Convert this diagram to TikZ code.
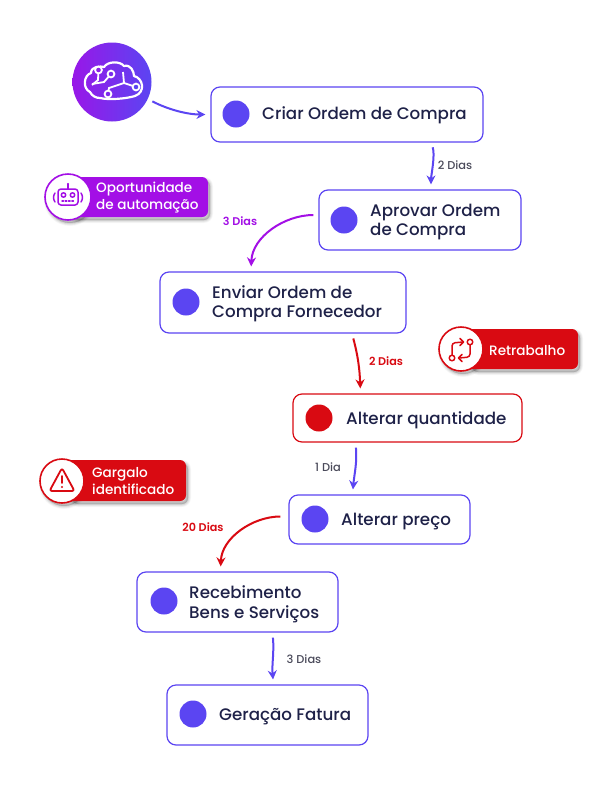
\documentclass[tikz,border=0pt]{standalone}
\usepackage{fontspec}
\setmainfont{Poppins Medium}
\newfontfamily\semif{Poppins SemiBold}
\usetikzlibrary{arrows.meta,calc,positioning}
\definecolor{bluec}{HTML}{5B45F2}
\definecolor{redc}{HTML}{D90A12}
\definecolor{purpc}{HTML}{A30FE6}
\definecolor{navy}{HTML}{1E2148}
\definecolor{grayt}{HTML}{4A4A5A}
\tikzset{
 procbox/.style={draw=#1,line width=1.2pt,rounded corners=9pt,fill=white,inner sep=0pt},
 procbox/.default=bluec,
 dotn/.style={circle,fill=#1,minimum size=27pt,inner sep=0pt},
 dotn/.default=bluec,
 proctext/.style={text=navy,font=\fontsize{16.7pt}{19.5pt}\selectfont,align=left,anchor=west,inner sep=0pt},
 arr/.style={draw=#1,line width=2pt,-{Stealth[length=9pt,width=9pt]},shorten <=5pt,shorten >=5pt},
 daylabel/.style={font=\fontsize{11.4pt}{13pt}\selectfont,text=grayt,inner sep=0pt},
 daystrong/.style={font=\fontsize{11.2pt}{13pt}\semif,text=#1,inner sep=0pt},
 pilltext/.style={text=white,font=\fontsize{13.6pt}{17.5pt}\selectfont,align=left,anchor=west,inner sep=0pt},
 icon/.style={draw=#1,line width=1.5pt,line cap=round,line join=round,fill=none},
}
\newcommand{\softshadow}[1]{%
 \foreach \s/\o in {6/0.03,4.5/0.04,3/0.05,1.5/0.06}{\path[fill=black,opacity=\o,shift={(2,3)},line width=\s pt,draw=black,draw opacity=\o] #1;}}
\begin{document}
\begin{tikzpicture}[x=1pt,y=-1pt]
\useasboundingbox (0,0) rectangle (613,788);
\fill[white] (0,0) rectangle (613,788);
% logo
\node[circle,minimum size=79pt,inner sep=0pt,left color=purpc!85!bluec,right color=bluec] (logo) at (112,82) {};
\draw[white,line width=2.2pt,line join=round]
 (90,92) .. controls (82,88) and (84,75) .. (91,73)
 .. controls (91,66) and (101,66) .. (104,67)
 .. controls (108,61) and (120,61) .. (124,66)
 .. controls (131,64) and (134,72) .. (134,76)
 .. controls (143,78) and (146,92) .. (135,96)
 .. controls (125,99) and (108,100) .. (100,98)
 .. controls (96,98) and (92,96) .. (90,92) -- cycle;
\draw[white,line width=1.8pt] (98.5,70) -- (98,80) -- (92,85);
\draw[white,line width=1.8pt] (111,74) -- (104,82) -- (92,84);
\draw[white,line width=1.8pt] (108,94) -- (109,88) -- (124,83) -- (136,87);
\draw[white,line width=1.8pt] (124,83) -- (123,72);
\draw[white,line width=1.8pt,fill=purpc!70!bluec] (98.5,70) circle (3.4);
\draw[white,line width=1.8pt,fill=purpc!45!bluec] (111,74) circle (3.4);
\draw[white,line width=1.8pt,fill=purpc!50!bluec] (108,94) circle (3.4);
\draw[white,line width=1.8pt,fill=bluec] (136,87) circle (3.4);
% boxes
\node[procbox,minimum width=272pt,minimum height=55pt] (criar) at (347,114.5) {};
\node[procbox,minimum width=202pt,minimum height=60pt] (aprovar) at (420,220) {};
\node[procbox,minimum width=246pt,minimum height=61pt] (enviar) at (283,302.5) {};
\node[procbox=redc,minimum width=229pt,minimum height=48pt] (altq) at (407.5,418) {};
\node[procbox,minimum width=181pt,minimum height=49pt] (altp) at (379.5,519.5) {};
\node[procbox,minimum width=201pt,minimum height=60pt] (receb) at (237.5,602) {};
\node[procbox,minimum width=201pt,minimum height=60pt] (gera) at (267.5,715) {};
% dots
\node[dotn] (d1) at (236,114) {};
\node[dotn] (d2) at (344,220) {};
\node[dotn] (d3) at (186,302) {};
\node[dotn=redc] (d4) at (319,418) {};
\node[dotn] (d5) at (315,519) {};
\node[dotn] (d6) at (164,601) {};
\node[dotn] (d7) at (193,714) {};
% text
\node[proctext] (t1) at (262,115.5) {Criar Ordem de Compra};
\node[proctext] (t2) at (370,222) {Aprovar Ordem\\de Compra};
\node[proctext] (t3) at (212,304) {Enviar Ordem de\\Compra Fornecedor};
\node[proctext] (t4) at (346,420.5) {Alterar quantidade};
\node[proctext] (t5) at (341,521.5) {Alterar preço};
\node[proctext] (t6) at (189,604) {Recebimento\\Bens e Serviços};
\node[proctext] (t7) at (219,716.5) {Geração Fatura};
% connectors
\draw[arr=bluec] ($(logo.center)+(36,17)$) to[out=-28,in=180,looseness=0.9] (criar.west);
\draw[arr=bluec] ($(criar.south)+(84,0)$) to[out=-70,in=90,looseness=0.7] ($(aprovar.north)+(11,0)$);
\draw[arr=purpc] ($(aprovar.west)+(0,-5)$) to[out=180,in=88] ($(enviar.north)+(-32,0)$);
\draw[arr=redc] ($(enviar.south)+(69,0)$) to[out=-75,in=92] ($(altq.north)+(-47,0)$);
\draw[arr=bluec] ($(altq.south)+(-52,0)$) to[out=-85,in=85] ($(altp.north)+(-27,0)$);
\draw[arr=redc] ($(altp.west)+(-3,-3)$) to[out=180,in=88] ($(receb.north)+(-17,0)$);
\draw[arr=bluec] ($(receb.south)+(35,0)$) to[out=-85,in=95] ($(gera.north)+(6,0)$);
% labels
\node[daylabel] (l1) at (455,165) {2 Dias};
\node[daystrong=purpc] (l2) at (240,221) {3 Dias};
\node[daystrong=redc] (l3) at (386,361) {2 Dias};
\node[daylabel] (l4) at (328,467) {1 Dia};
\node[daystrong=redc] (l5) at (203,527) {20 Dias};
\node[daylabel] (l6) at (304,659) {3 Dias};
% badges
\softshadow{[rounded corners=6pt] (70,177) rectangle (208,217)}
\softshadow{(68,197) circle (23)}
\fill[purpc,rounded corners=6pt] (60,177) rectangle (208,217);
\node[circle,draw=purpc,line width=1.6pt,fill=white,minimum size=46pt,inner sep=0pt] (b1) at (68,197) {};
\node[pilltext] (bt1) at (96,197.5) {Oportunidade\\de automação};
\begin{scope}[shift={(68,197)}]
 \draw[icon=purpc,rounded corners=3pt] (-10,-8) rectangle (10,8);
 \draw[icon=purpc] (0,-8) -- (0,-13);
 \fill[purpc] (0,-13) circle (1.2);
 \draw[icon=purpc] (-4.5,-2) circle (2.2) (4.5,-2) circle (2.2);
 \draw[icon=purpc,dash pattern=on 1.5pt off 1.8pt] (-6,4) -- (6,4);
 \draw[icon=purpc] (-13,-4) .. controls (-15,-1) and (-15,2) .. (-13,5);
 \draw[icon=purpc] (13,-4) .. controls (15,-1) and (15,2) .. (13,5);
\end{scope}
\softshadow{[rounded corners=6pt] (470,329) rectangle (578,369)}
\softshadow{(461,349) circle (22)}
\fill[redc,rounded corners=6pt] (450,329) rectangle (578,369);
\node[circle,draw=redc,line width=1.6pt,fill=white,minimum size=44pt,inner sep=0pt] (b2) at (461,349) {};
\node[pilltext] (bt2) at (489,351) {Retrabalho};
\begin{scope}[shift={(461,349)}]
 \draw[icon=redc] (-9,9) circle (2.8) (9,-7) circle (2.8);
 \draw[icon=redc,rounded corners=3pt] (-9,6) -- (-9,-6) -- (2,-7);
 \draw[icon=redc] (-1,-10.5) -- (2.5,-7) -- (-1,-3.5);
 \draw[icon=redc,rounded corners=3pt] (9,-4) -- (9,8) -- (-2,9);
 \draw[icon=redc] (1,5.5) -- (-2.5,9) -- (1,12.5);
\end{scope}
\softshadow{[rounded corners=6pt] (70,460) rectangle (186,501)}
\softshadow{(62,481) circle (22)}
\fill[redc,rounded corners=6pt] (50,460) rectangle (186,501);
\node[circle,draw=redc,line width=1.6pt,fill=white,minimum size=44pt,inner sep=0pt] (b3) at (62,481) {};
\node[pilltext] (bt3) at (92,481) {Gargalo\\identificado};
\begin{scope}[shift={(62,481)}]
 \draw[icon=redc,line width=1.8pt,rounded corners=2.5pt] (0,-13) -- (12.5,10) -- (-12.5,10) -- cycle;
 \draw[redc,line width=1.8pt,line cap=round] (0,-5) -- (0,2);
 \fill[redc] (0,6) circle (1.2);
\end{scope}
\end{tikzpicture}
\end{document}
